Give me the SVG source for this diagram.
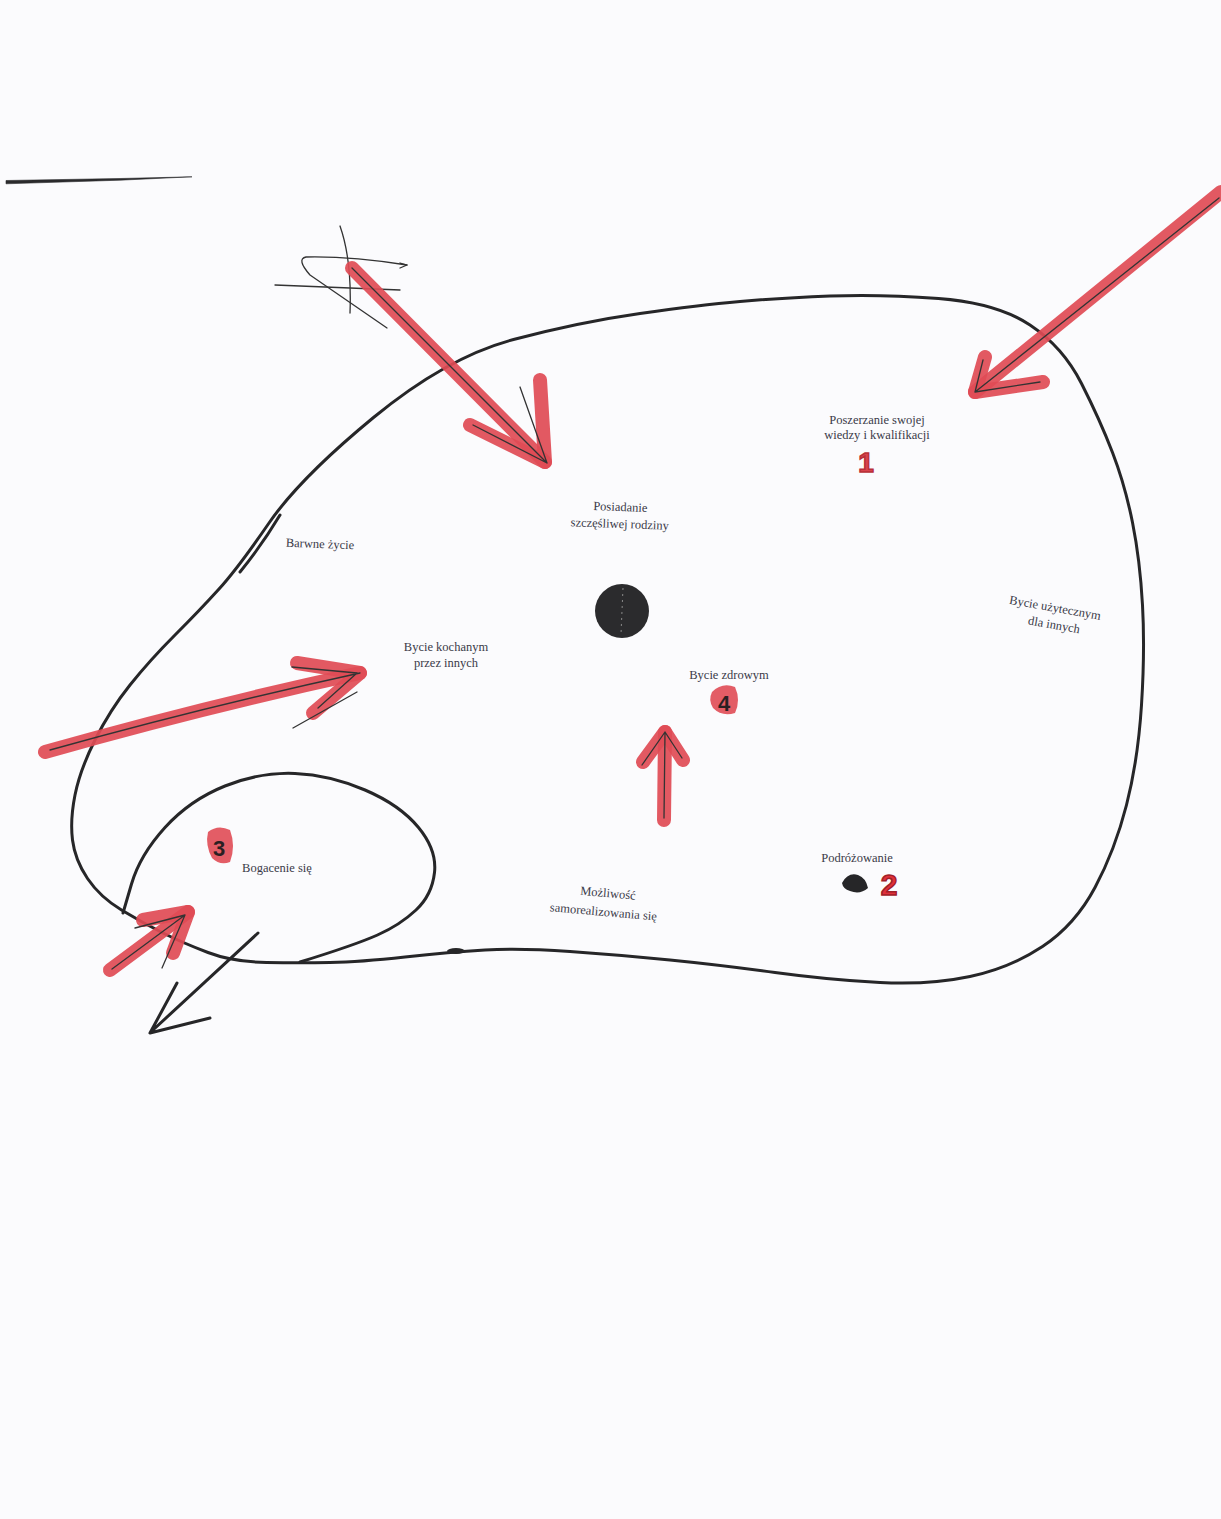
<svg xmlns="http://www.w3.org/2000/svg" width="1221" height="1519" viewBox="0 0 1221 1519">
<style>
.ink{fill:none;stroke:#262628;stroke-width:3;stroke-linecap:round;stroke-linejoin:round}
.thin{fill:none;stroke:#333;stroke-width:1.3;stroke-linecap:round;stroke-linejoin:round}
.red{fill:none;stroke:#e04b55;stroke-width:14;stroke-linecap:round;stroke-linejoin:round;opacity:0.92}
.lbl{font-family:"Liberation Serif","Times New Roman",serif;font-size:12.5px;fill:#3a3a48;text-anchor:middle}
.num{font-family:"Liberation Sans",Arial,sans-serif;font-weight:bold;text-anchor:middle}
</style>
<rect x="0" y="0" width="1221" height="1519" fill="#fbfbfd"/>

<!-- stray line top-left -->
<path d="M6,180.5 L120,178.5 L192,176.8 L120,180.2 L6,183.8 Z" fill="#2a2a2c" stroke="#2a2a2c" stroke-width="0.6" stroke-linejoin="round"/>

<!-- scribble -->
<g id="scribble">
<path class="thin" d="M340,226 Q352,260 350,313"/>
<path class="thin" d="M275,285 L400,290"/>
<path class="thin" d="M407,265 Q350,256 306,257 Q296,259 310,275 L387,328"/>
<path class="thin" d="M400,263 L407,265 L400,268"/>
</g>

<!-- outlines -->
<g id="outlines">
<path id="big-region" class="ink" d="M269,523 Q300,478 373.5,417.5 Q447,357 513.5,339.5 Q580,322 640,313.5 Q700,305 740,301.5 Q780,298 830,296 Q880,294 938.5,298.5 Q997,303 1030,325 Q1063,347 1081.5,383.5 Q1100,420 1112.5,452.5 Q1125,485 1132.5,522.5 Q1140,560 1142.5,605 Q1145,650 1141.5,705 Q1138,760 1126.5,805 Q1115,850 1095,887.5 Q1075,925 1042.5,946.5 Q1010,968 970,976.5 Q930,985 880,982.5 Q830,980 775,972.5 Q720,965 670,960 Q620,955 570,951.5 Q520,948 485,950 Q450,952 405,957 Q360,962 330,962.5 Q300,963 266.5,962.5 Q233,962 208,952.5 Q183,943 163,933 Q143,923 121.5,910 Q100,897 87.5,878.5 Q75,860 72.5,840 Q70,820 75,795 Q80,770 95,740 Q110,710 130,685 Q150,660 175,635 Q200,610 219,589 Q238,568 269,523"/>
<path class="ink" d="M280,515 Q262,545 240,572" stroke-width="2"/>
<ellipse cx="456" cy="951" rx="9" ry="3" fill="#262628"/>
<path id="small-region" class="ink" d="M123,913 L131.5,884 Q140,855 165,827.5 Q190,800 225,786 Q260,772 295,773.5 Q330,775 365,790 Q400,805 418.5,827.5 Q437,850 434.5,872.5 Q432,895 416,910 Q400,925 377.5,935 Q355,945 300,962"/>
</g>

<!-- connectors (arrows) -->
<g id="connectors">
<g id="arrow-top-left">
<path class="red" d="M352,268 L545,462"/>
<path class="red" d="M470,425 L545,462 L540,380"/>
<path class="thin" d="M352,268 L547,463 M473,425 L547,463 M520,387 L547,463"/>
</g>
<g id="arrow-top-right">
<path class="red" d="M1221,192 L975,392" stroke-width="12"/>
<path class="red" d="M985,357 L975,392 L1043,382" stroke-width="12"/>
<path class="thin" d="M1219,198 L975,392 L1040,382 M975,392 L983,360"/>
</g>
<g id="arrow-left">
<path class="red" d="M45,752 Q200,708 360,673"/>
<path class="red" d="M297,663 L360,673 L313,713"/>
<path class="thin" d="M50,750 Q200,708 360,673 M292,667 L357,673 L318,708 M293,728 L357,692"/>
</g>
<g id="arrow-up">
<path class="red" d="M664,820 L665,732"/>
<path class="red" d="M643,762 L665,732 L683,760"/>
<path class="thin" d="M664,818 L665,732 L642,765 M665,732 L682,758"/>
</g>
<g id="arrow-bottom-left">
<path class="red" d="M110,970 L188,912"/>
<path class="red" d="M143,920 L188,912 L173,953"/>
<path class="thin" d="M112,969 L185,915 M135,928 L185,915 L162,968"/>
</g>
<g id="arrow-out">
<path class="ink" d="M258,933 L153,1030 M177,983 L150,1033 L210,1018" stroke-width="3.5"/>
</g>
</g>

<!-- center dot -->
<g id="center">
<circle cx="622" cy="611" r="27" fill="#2b2b2d"/>
<path d="M623,588 L621,634" stroke="#8a8a8a" stroke-width="1" stroke-dasharray="2 4" fill="none"/>
</g>

<!-- nodes -->
<g id="node-wiedza">
<text class="lbl" x="877" y="424">Poszerzanie swojej</text>
<text class="lbl" x="877" y="439">wiedzy i kwalifikacji</text>
<text class="num" x="866" y="472" font-size="28" fill="#d9434c" stroke="#b83038" stroke-width="1.5">1</text>
</g>
<g id="node-rodzina" transform="rotate(2 620 518)">
<text class="lbl" x="620" y="511">Posiadanie</text>
<text class="lbl" x="620" y="528">szczęśliwej rodziny</text>
</g>
<g id="node-barwne">
<text class="lbl" x="320" y="548" transform="rotate(2 320 544)">Barwne życie</text>
</g>
<g id="node-kochanym">
<text class="lbl" x="446" y="651">Bycie kochanym</text>
<text class="lbl" x="446" y="667">przez innych</text>
</g>
<g id="node-zdrowym">
<text class="lbl" x="729" y="679">Bycie zdrowym</text>
<path d="M712,692 Q722,682 735,687 Q741,700 735,713 Q722,717 713,708 Q708,700 712,692 Z" fill="#e04b55" opacity="0.9"/>
<text class="num" x="724" y="711" font-size="22" fill="#2a1f22">4</text>
</g>
<g id="node-uzytecznym" transform="rotate(10 1055 620)">
<text class="lbl" x="1053" y="612">Bycie użytecznym</text>
<text class="lbl" x="1055" y="629">dla innych</text>
</g>
<g id="node-bogacenie">
<text class="lbl" x="277" y="872">Bogacenie się</text>
<path d="M208,832 Q218,824 230,830 Q236,846 230,862 Q220,866 212,858 Q205,845 208,832 Z" fill="#e04b55" opacity="0.9"/>
<text class="num" x="219" y="856" font-size="22" fill="#2a1f22">3</text>
</g>
<g id="node-samorealizacja" transform="rotate(5 605 905)">
<text class="lbl" x="607" y="897">Możliwość</text>
<text class="lbl" x="604" y="916">samorealizowania się</text>
</g>
<g id="node-podrozowanie">
<text class="lbl" x="857" y="862">Podróżowanie</text>
<path d="M842,883 Q848,872 858,875 Q866,878 868,888 Q860,895 850,891 Q843,889 842,883 Z" fill="#262628"/>
<text class="num" x="889" y="895" font-size="30" fill="#e0303a" stroke="#a02028" stroke-width="1.5">2</text>
</g>
</svg>
